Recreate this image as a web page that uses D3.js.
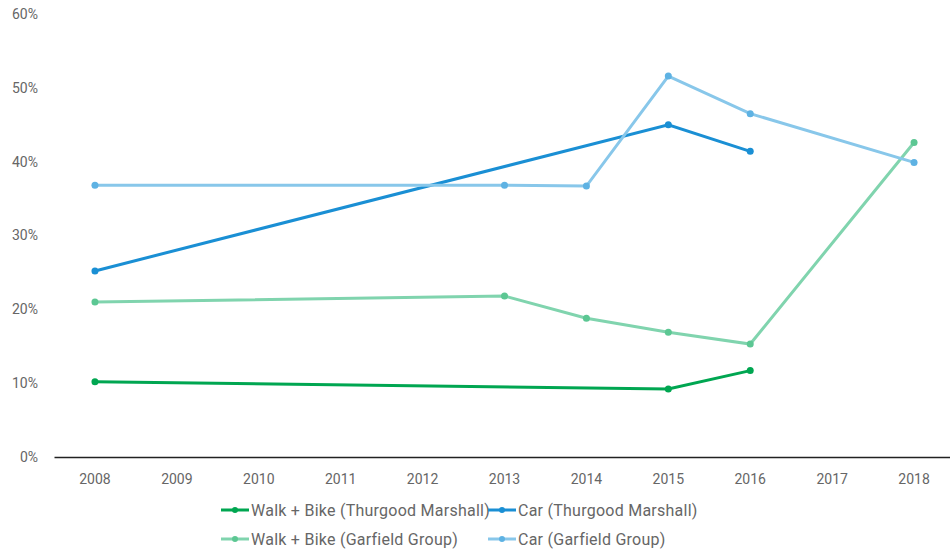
<!DOCTYPE html>
<html>
<head>
  <meta charset="utf-8">
  <title>Commute mode share</title>
  <style>
    body { margin: 0; background: #fff; }
    text { font-family: Roboto, "Noto Sans", sans-serif; fill: #666; }
    .tick-label { font-size: 14px; }
    .legend text { font-size: 16px; letter-spacing: 0.25px; }
  </style>
</head>
<body>
  <script src="https://d3js.org/d3.v7.min.js"></script>
  <svg width="950" height="550"></svg>
  <script>
    var years = ["2008", "2009", "2010", "2011", "2012", "2013", "2014", "2015", "2016", "2017", "2018"];
    var yTicks = [0, 10, 20, 30, 40, 50, 60];

    var walkBikeTM = [["2008", 10.2], ["2015", 9.2], ["2016", 11.7]];
    var carTM = [["2008", 25.2], ["2015", 45.0], ["2016", 41.4]];
    var walkBikeGG = [["2008", 21.0], ["2013", 21.8], ["2014", 18.8], ["2015", 16.9], ["2016", 15.3], ["2018", 42.6]];
    var carGG = [["2008", 36.8], ["2013", 36.8], ["2014", 36.7], ["2015", 51.6], ["2016", 46.5], ["2018", 39.9]];

    var seriesNames = ["Walk + Bike (Thurgood Marshall)", "Car (Thurgood Marshall)",
                       "Walk + Bike (Garfield Group)", "Car (Garfield Group)"];
    var lineColors = ["#00a651", "#1a8fd4", "#80d4ae", "#88c7ea"];
    var dotColors = ["#00a651", "#1a8fd4", "#5cc793", "#5eb2e3"];
    var seriesData = [walkBikeTM, carTM, walkBikeGG, carGG];

    var svg = d3.select("svg");

    var x = d3.scaleBand().domain(years).range([54, 955]);
    var y = d3.scaleLinear().domain([0, 60]).range([457, 14]);

    // y labels, no axis line
    svg.selectAll(".ylab")
        .data(yTicks)
        .enter()
        .append("text")
        .attr("class", "tick-label")
        .attr("x", 38)
        .attr("y", function(d) { return y(d); })
        .attr("dy", "0.35em")
        .attr("text-anchor", "end")
        .text(function(d) { return d + "%"; });

    // x axis
    var xAxis = svg.append("g")
        .attr("transform", "translate(0," + y(0) + ")")
        .call(d3.axisBottom(x).tickSize(0).tickPadding(17));
    xAxis.select(".domain").attr("stroke", "#222").attr("stroke-width", 1.5);
    xAxis.selectAll("text").attr("class", "tick-label").style("font-size", "14px").attr("fill", "#666");

    var line = d3.line()
        .x(function(d) { return x(d[0]) + x.bandwidth() / 2; })
        .y(function(d) { return y(d[1]); });

    seriesData.forEach(function(data, i) {
      svg.append("path")
          .datum(data)
          .attr("fill", "none")
          .attr("stroke", lineColors[i])
          .attr("stroke-width", 3)
          .attr("d", line);

      svg.selectAll(".dot" + i)
          .data(data)
          .enter()
          .append("circle")
          .attr("cx", function(d) { return x(d[0]) + x.bandwidth() / 2; })
          .attr("cy", function(d) { return y(d[1]); })
          .attr("r", 3.5)
          .attr("fill", dotColors[i]);
    });

    // legend
    var legendPos = [[221, 510], [488, 510], [221, 539], [488, 539]];
    var legend = svg.append("g").attr("class", "legend");
    seriesNames.forEach(function(name, i) {
      var g = legend.append("g")
          .attr("transform", "translate(" + legendPos[i][0] + "," + legendPos[i][1] + ")");
      g.append("line")
          .attr("x1", 0).attr("x2", 28)
          .attr("stroke", lineColors[i])
          .attr("stroke-width", 3);
      g.append("circle")
          .attr("cx", 14).attr("r", 3)
          .attr("fill", dotColors[i]);
      g.append("text")
          .attr("x", 30)
          .attr("dy", "0.35em")
          .text(name);
    });
  </script>
</body>
</html>
